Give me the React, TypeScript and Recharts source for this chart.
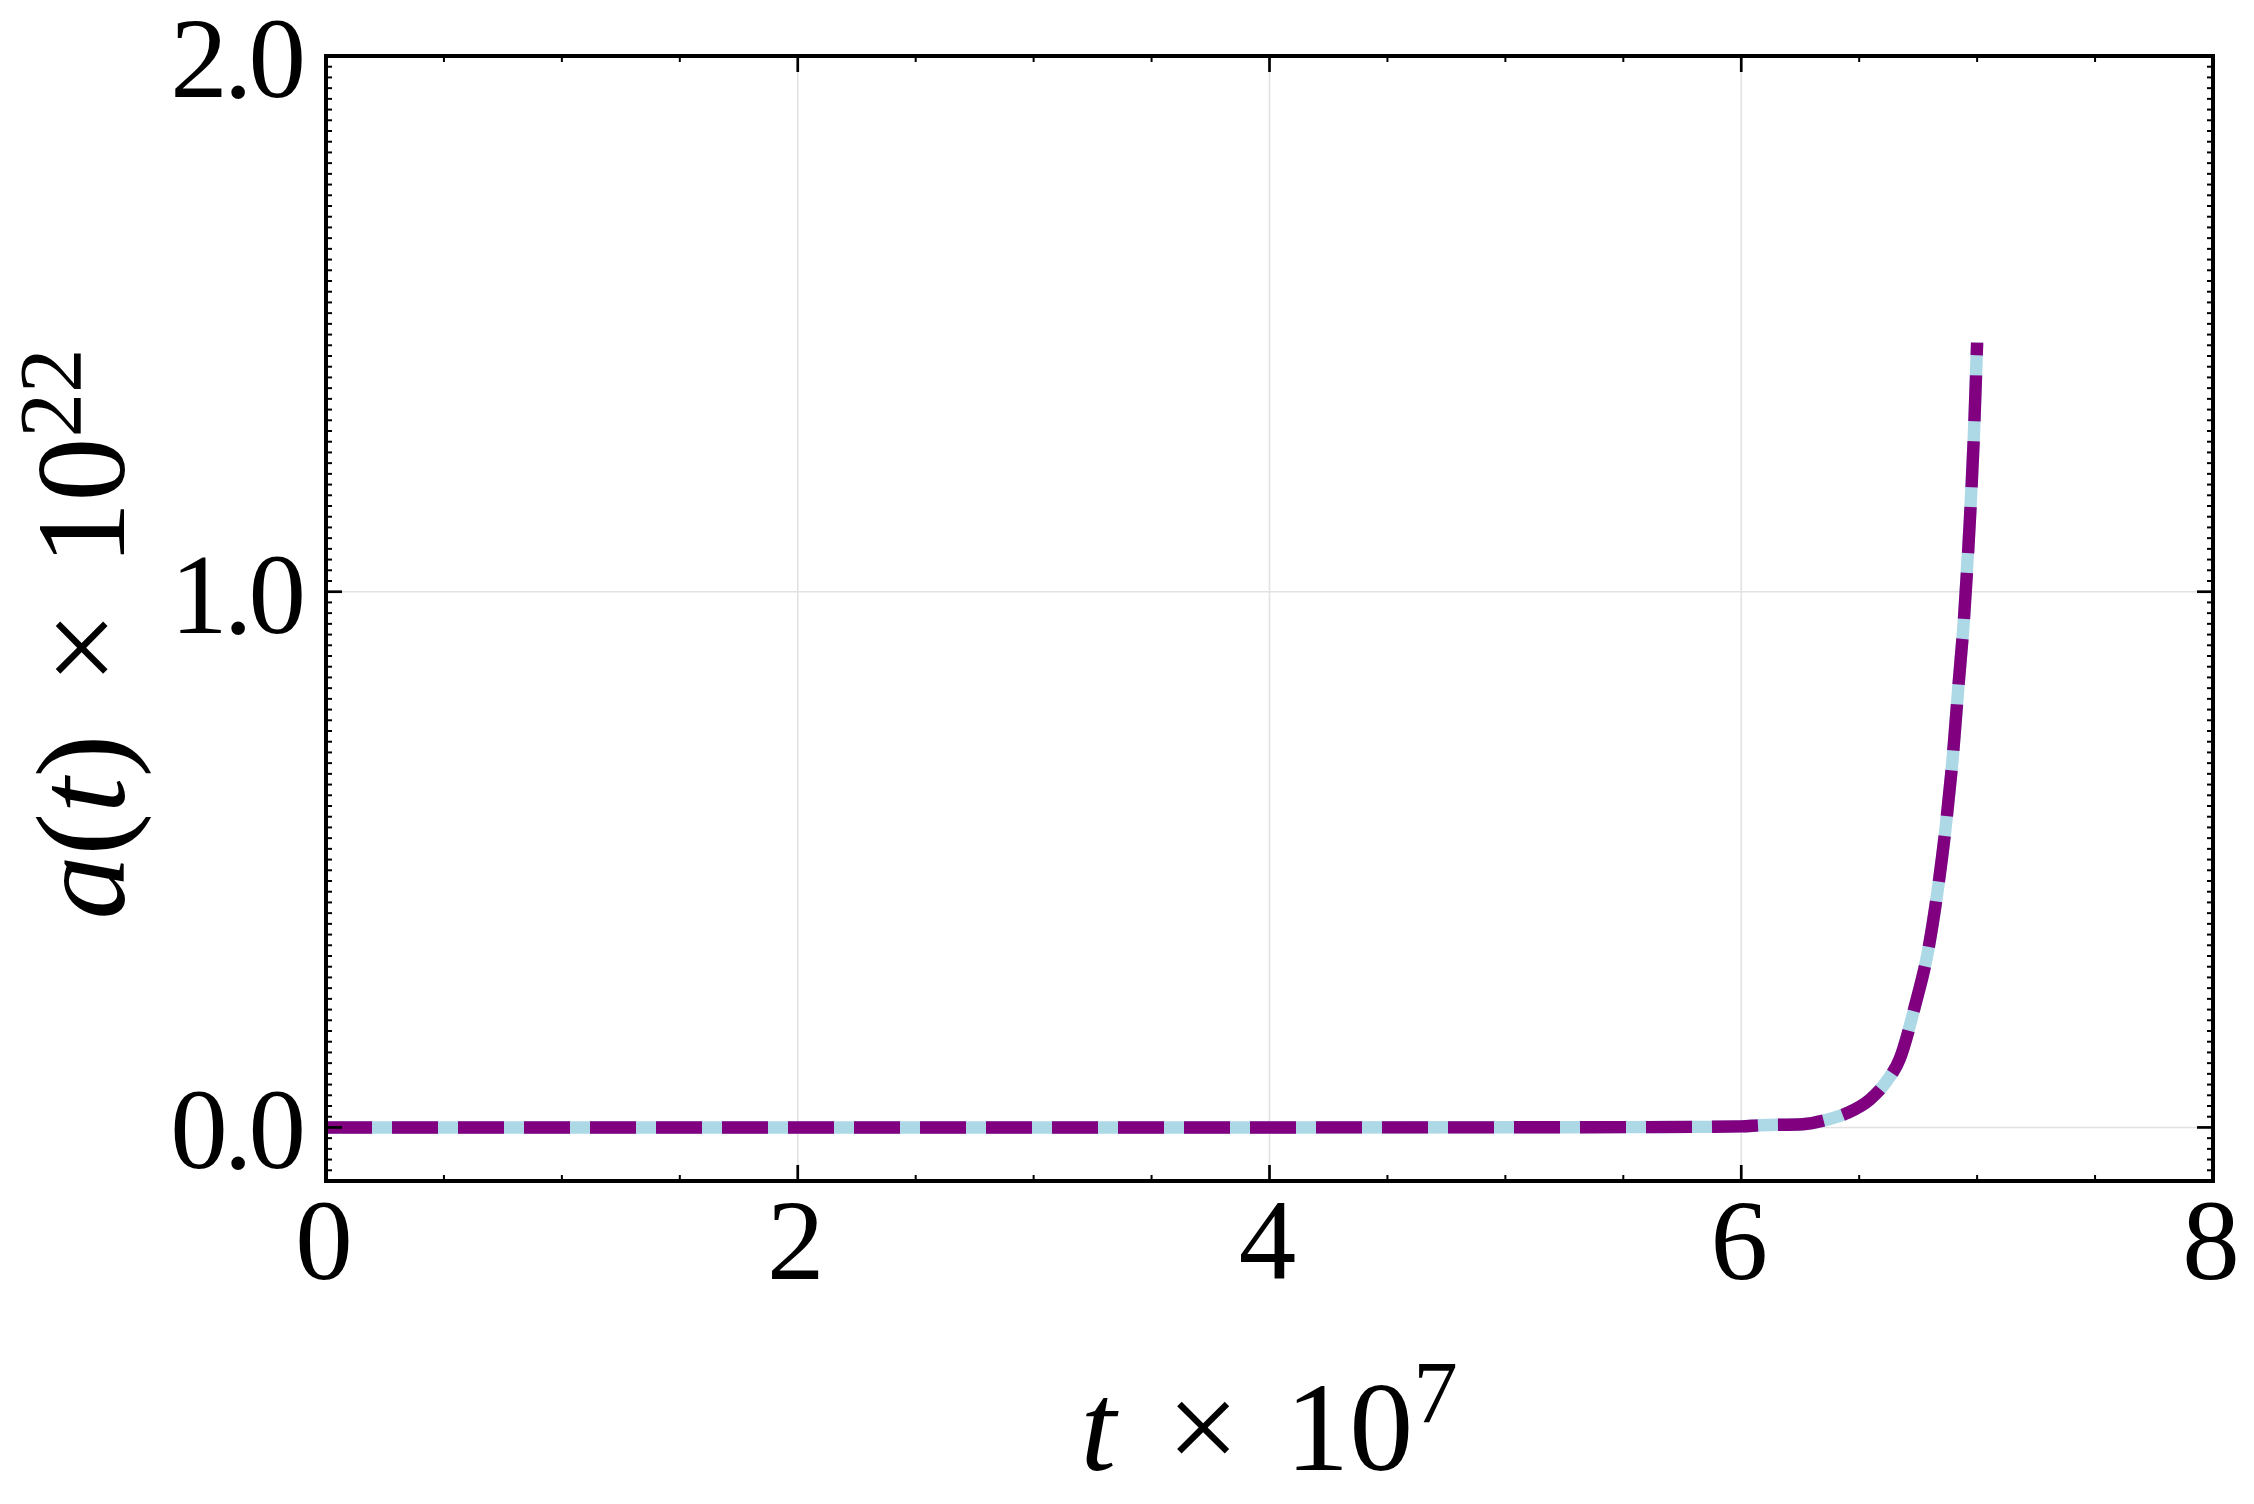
import React from 'react'
import { LineChart, Line, XAxis, YAxis, CartesianGrid } from 'recharts'

// a(t) x 1e22 against t x 1e7
const tValues = [0, 1, 2, 3, 4, 5, 5.5, 5.8, 6.0, 6.08, 6.26, 6.36, 6.45, 6.545, 6.616, 6.672, 6.736, 6.793, 6.835, 6.87, 6.898, 6.92, 6.945, 6.969, 6.986, 7.0]
const aValues = [0, 0, 0, 0, 0, 0.0002, 0.0005, 0.001, 0.002, 0.004, 0.006, 0.014, 0.027, 0.052, 0.086, 0.128, 0.226, 0.332, 0.45, 0.574, 0.698, 0.82, 0.955, 1.132, 1.289, 1.465]

const xMajorTicks = [0, 2, 4, 6, 8]
const xTickLabels = ['0', '2', '4', '6', '8']
const yMajorTicks = [0, 1, 2]
const yTickLabels = ['0.0', '1.0', '2.0']

const data = tValues.map((t, i) => ({ t, a: aValues[i] }))

// minor tick positions (0.5 on x, 0.02 on y)
const xAllTicks = Array.from({ length: 17 }, (_, i) => i * 0.5)
const yAllTicks = Array.from({ length: 106 }, (_, i) => Math.round((i - 5) * 2) / 100)

const FONT = "'Liberation Serif', 'Times New Roman', serif"
const MAJOR = 16
const MINOR = 6

const majorIndex = (v: number, majors: number[]) => majors.findIndex((m) => Math.abs(m - v) < 1e-6)

const BottomTick = (props: any) => {
  const { x, y, payload } = props
  const idx = majorIndex(payload.value, xMajorTicks)
  const major = idx >= 0
  return (
    <g>
      <line x1={x} x2={x} y1={y} y2={y - (major ? MAJOR : MINOR)} stroke="#000" strokeWidth={major ? 2.7 : 2} />
      {major && (
        <text x={x - 2} y={y + 98} textAnchor="middle" fontFamily={FONT} fontSize={115} fill="#000">
          {xTickLabels[idx]}
        </text>
      )}
    </g>
  )
}

const TopTick = (props: any) => {
  const { x, y, payload } = props
  const major = majorIndex(payload.value, xMajorTicks) >= 0
  return <line x1={x} x2={x} y1={y} y2={y + (major ? MAJOR : MINOR)} stroke="#000" strokeWidth={major ? 2.7 : 2} />
}

const LeftTick = (props: any) => {
  const { x, y, payload } = props
  const idx = majorIndex(payload.value, yMajorTicks)
  const major = idx >= 0
  return (
    <g>
      <line x1={x} x2={x + (major ? MAJOR : MINOR)} y1={y} y2={y} stroke="#000" strokeWidth={major ? 2.7 : 2} />
      {major && (
        <text x={x - 24} y={y + 41} textAnchor="end" fontFamily={FONT} fontSize={115} letterSpacing={-4} fill="#000">
          {yTickLabels[idx]}
        </text>
      )}
    </g>
  )
}

const RightTick = (props: any) => {
  const { x, y, payload } = props
  const major = majorIndex(payload.value, yMajorTicks) >= 0
  return <line x1={x} x2={x - (major ? MAJOR : MINOR)} y1={y} y2={y} stroke="#000" strokeWidth={major ? 2.7 : 2} />
}

const frame = { stroke: '#000', strokeWidth: 4, strokeLinecap: 'square' as const }

export default function App() {
  return (
    <div style={{ position: 'absolute', left: 0, top: 0, width: 2254, height: 1504, background: '#fff' }}>
      <LineChart width={2254} height={1504} data={data} margin={{ top: 55, right: 40, bottom: 322, left: 325 }}>
        <CartesianGrid
          xAxisId="b"
          yAxisId="l"
          stroke="#e2e2e2"
          strokeWidth={1.6}
          horizontalValues={yMajorTicks}
          verticalValues={xMajorTicks}
        />
        <XAxis
          xAxisId="b"
          dataKey="t"
          type="number"
          domain={[0, 8]}
          ticks={xAllTicks}
          interval={0}
          allowDataOverflow
          height={1}
          tickSize={0}
          tickMargin={0}
          tickLine={false}
          axisLine={frame}
          tick={BottomTick}
        />
        <XAxis
          xAxisId="t"
          orientation="top"
          dataKey="t"
          type="number"
          domain={[0, 8]}
          ticks={xAllTicks}
          interval={0}
          allowDataOverflow
          height={1}
          tickSize={0}
          tickMargin={0}
          tickLine={false}
          axisLine={frame}
          tick={TopTick}
        />
        <YAxis
          yAxisId="l"
          type="number"
          domain={[-0.1, 2]}
          ticks={yAllTicks}
          interval={0}
          allowDataOverflow
          width={1}
          tickSize={0}
          tickMargin={0}
          tickLine={false}
          axisLine={frame}
          tick={LeftTick}
        />
        <YAxis
          yAxisId="r"
          orientation="right"
          type="number"
          domain={[-0.1, 2]}
          ticks={yAllTicks}
          interval={0}
          allowDataOverflow
          width={1}
          tickSize={0}
          tickMargin={0}
          tickLine={false}
          axisLine={frame}
          tick={RightTick}
        />
        <Line
          xAxisId="b"
          yAxisId="l"
          dataKey="a"
          type="monotone"
          stroke="#add8e6"
          strokeWidth={12.4}
          dot={false}
          activeDot={false}
          isAnimationActive={false}
        />
        <Line
          xAxisId="t"
          yAxisId="r"
          dataKey="a"
          type="monotone"
          stroke="#800080"
          strokeWidth={12.4}
          strokeDasharray="46 20"
          dot={false}
          activeDot={false}
          isAnimationActive={false}
        />
      </LineChart>
      <svg width={2254} height={1504} style={{ position: 'absolute', left: 0, top: 0, pointerEvents: 'none' }}>
        <text x={1269} y={1470} textAnchor="middle" fontFamily={FONT} fontSize={128} fill="#000">
          <tspan fontStyle="italic">t</tspan>
          <tspan dx={51}>×</tspan>
          <tspan dx={46}>10</tspan>
          <tspan dy={-48} fontSize={89}>7</tspan>
        </text>
        <text
          transform="rotate(-90)"
          x={-634}
          y={124}
          textAnchor="middle"
          fontFamily={FONT}
          fontSize={128}
          fill="#000"
        >
          <tspan fontStyle="italic">a</tspan>
          <tspan>(</tspan>
          <tspan fontStyle="italic">t</tspan>
          <tspan>)</tspan>
          <tspan dx={51}>×</tspan>
          <tspan dx={46}>10</tspan>
          <tspan dy={-44} fontSize={89}>22</tspan>
        </text>
      </svg>
    </div>
  )
}
